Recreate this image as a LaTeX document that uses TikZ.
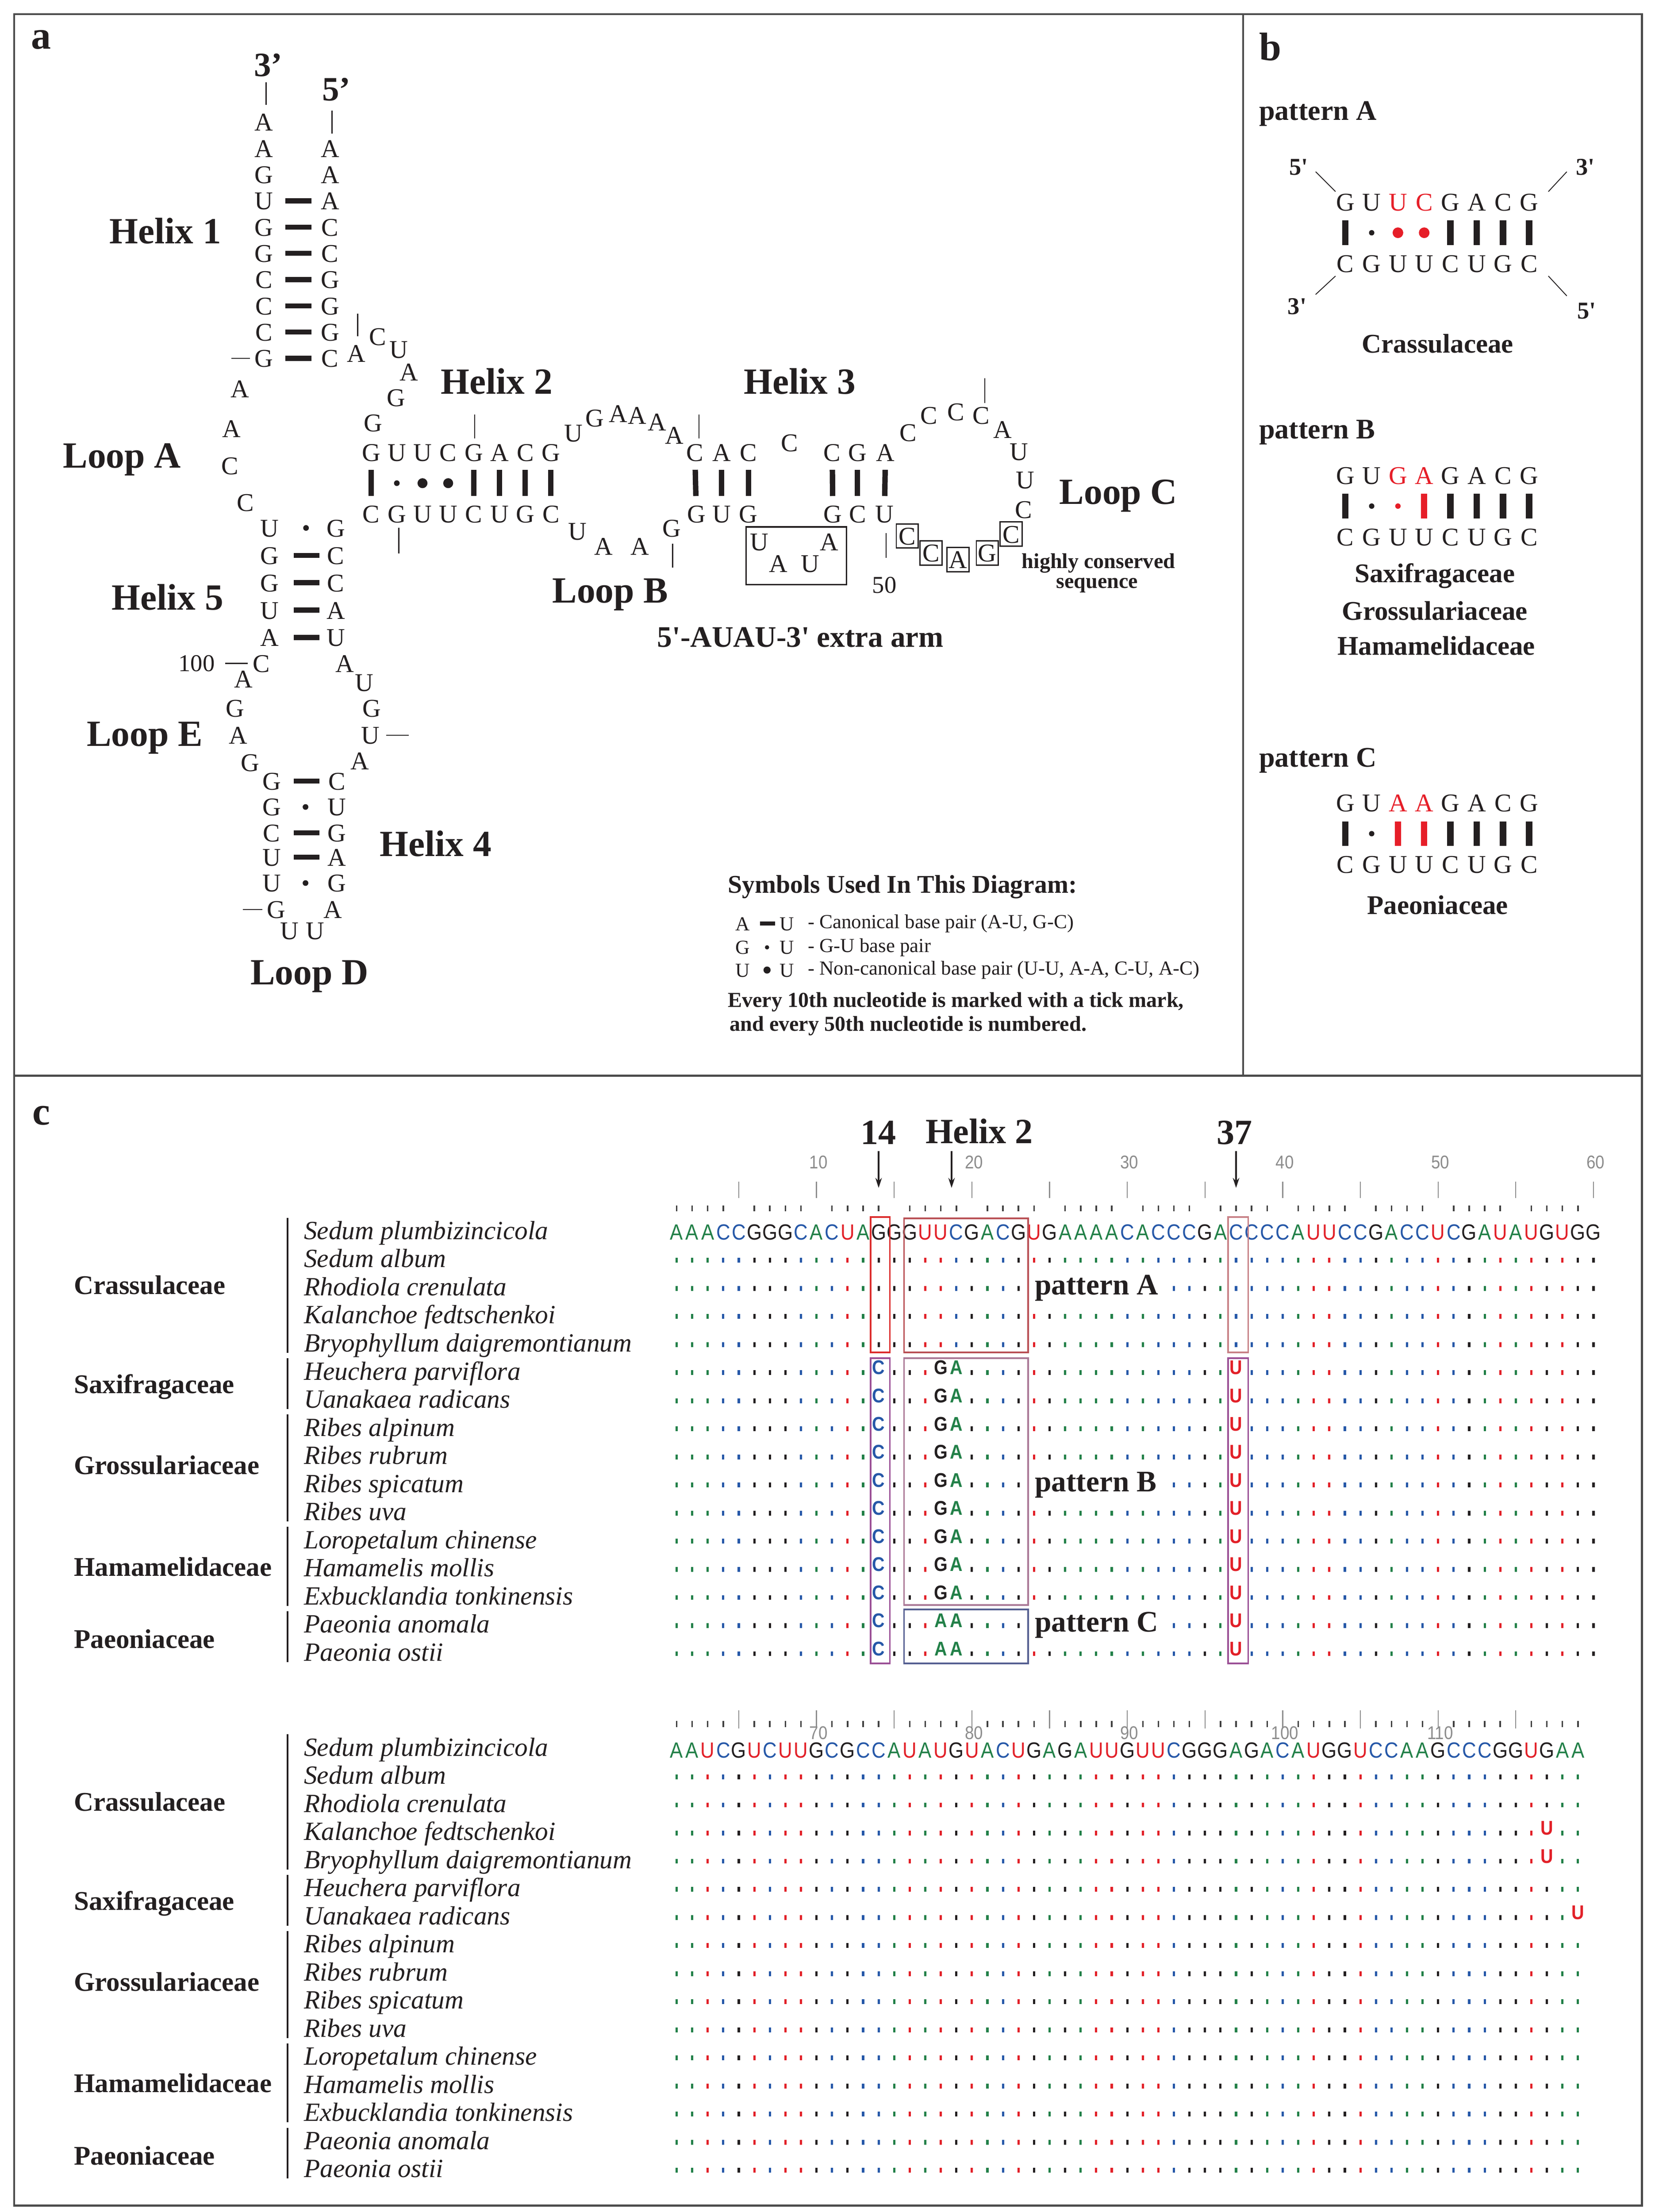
\documentclass[tikz,border=0pt]{standalone}
\usepackage{fontspec}
\setmainfont{Liberation Serif}
\newfontfamily\seqf[FakeStretch=0.88]{Liberation Sans}
\usetikzlibrary{arrows.meta}
\definecolor{ink}{RGB}{35,31,32}
\definecolor{cA}{RGB}{34,128,72}
\definecolor{cC}{RGB}{38,88,168}
\definecolor{cG}{RGB}{35,31,32}
\definecolor{cU}{RGB}{226,32,40}
\definecolor{bred}{RGB}{230,30,40}
\definecolor{framec}{RGB}{75,75,75}
\definecolor{bxr}{RGB}{220,45,45}
\definecolor{bxp}{RGB}{155,80,150}
\definecolor{bxbr}{RGB}{185,80,85}
\definecolor{bxm}{RGB}{170,120,150}
\definecolor{bxs}{RGB}{85,95,145}
\definecolor{bxpk}{RGB}{200,130,135}
\newcommand\fs[1]{\fontsize{#1}{#1}\selectfont}
\tikzset{
 framel/.style={draw=framec, line width=1.4pt},
 nt/.style={font=\fs{18}, inner sep=0pt, text=ink, text height=12.4pt, text depth=0pt},
 ntbox/.style={nt, draw=ink, line width=0.9pt, minimum width=15.5pt, minimum height=17pt},
 hlab/.style={font=\bfseries\fs{26}, inner sep=0pt, text=ink, text height=17.4pt, text depth=0pt},
 endlab/.style={font=\bfseries\fs{24}, inner sep=0pt, text=ink},
 plab/.style={font=\bfseries\fs{28}, inner sep=0pt, text=ink},
 tk/.style={draw=ink, line width=0.75pt},
 bph/.style={draw=ink, line width=3.6pt},
 bpv/.style={draw=ink, line width=3.8pt, shorten <=12.3pt, shorten >=12.7pt},
 gu/.style={circle, fill=ink, inner sep=0pt, minimum size=4pt},
 ncd/.style={circle, fill=ink, inner sep=0pt, minimum size=7pt},
 smalltxt/.style={font=\fs{17}, inner sep=0pt, text=ink},
 b15/.style={font=\bfseries\fs{15}, inner sep=0pt, text=ink},
 b21/.style={font=\bfseries\fs{21}, inner sep=0pt, text=ink},
 legnt/.style={font=\fs{14}, inner sep=0pt, text=ink, text height=9.7pt, text depth=0pt},
 legtxt/.style={font=\fs{14}, inner sep=0pt, text=ink},
 legtitle/.style={font=\bfseries\fs{18}, inner sep=0pt, text=ink},
 legbold/.style={font=\bfseries\fs{15}, inner sep=0pt, text=ink},
 bnt/.style={font=\fs{18}, inner sep=0pt, text=ink, text height=12.4pt, text depth=0pt},
 bbar/.style={line width=4.5pt, shorten <=13pt, shorten >=13pt},
 bgu/.style={circle, inner sep=0pt, minimum size=3.8pt},
 bnc/.style={circle, inner sep=0pt, minimum size=7.5pt},
 bhead/.style={font=\bfseries\fs{20}, inner sep=0pt, text=ink, anchor=west},
 bfam/.style={font=\bfseries\fs{19}, inner sep=0pt, text=ink},
 bendlab/.style={font=\bfseries\fs{17}, inner sep=0pt, text=ink},
 hdr/.style={font=\bfseries\fs{25}, inner sep=0pt, text=ink},
 seqn/.style={font=\seqf\fs{15.5}, inner sep=0pt, text height=11pt, text depth=0pt},
 alnt/.style={font=\seqf\bfseries\fs{14}, fill=white, inner sep=0.5pt, text height=10pt, text depth=0pt, minimum height=13pt},
 numg/.style={font=\seqf\fs{13}, inner sep=0pt, text=black!45},
 spc/.style={font=\itshape\fs{18.5}, inner sep=0pt, text=ink, anchor=west, text height=12.5pt, text depth=0pt},
 famc/.style={font=\bfseries\fs{19}, inner sep=0pt, text=ink, anchor=west, text height=12.8pt, text depth=0pt},
 pl/.style={font=\bfseries\fs{21}, inner sep=2pt, text=ink, fill=white, anchor=west},
 fbar/.style={draw=ink, line width=1.5pt},
 arr/.style={draw=ink, line width=1.3pt, -{Stealth[length=7pt,width=4.5pt]}},
 ltk/.style={draw=black!45, line width=0.7pt},
 stk/.style={draw=black!75, line width=1.1pt},
 bx/.style={line width=1.2pt}
}
\def\seqone{A,A,A,C,C,G,G,G,C,A,C,U,A,G,G,G,U,U,C,G,A,C,G,U,G,A,A,A,A,C,A,C,C,C,G,A,C,C,C,C,A,U,U,C,C,G,A,C,C,U,C,G,A,U,A,U,G,U,G,G}
\def\seqtwo{A,A,U,C,G,U,C,U,U,G,C,G,C,C,A,U,A,U,G,U,A,C,U,G,A,G,A,U,U,G,U,U,C,G,G,G,A,G,A,C,A,U,G,G,U,C,C,A,A,G,C,C,C,G,G,U,G,A,A}
\newcommand\seqrow[3]{%
 \foreach \l [count=\i] in #1 {\node[seqn, text=c\l] (#2\i) at ({465.8+10.95*\i},#3) {\l};}}
\newcommand\dotrows[2]{%
 \foreach \l [count=\i] in #1 {%
  \foreach \r in {1,...,15} {%
   \fill[c\l] ({465.8+10.95*\i-0.8},{#2+19.8*\r-1.5}) rectangle ++(1.6,3.4);}}}
\newcommand\leftlab[2]{%
 \foreach \nm [count=\r from 0] in {Sedum plumbizincicola,Sedum album,Rhodiola crenulata,Kalanchoe fedtschenkoi,Bryophyllum daigremontianum,Heuchera parviflora,Uanakaea radicans,Ribes alpinum,Ribes rubrum,Ribes spicatum,Ribes uva,Loropetalum chinense,Hamamelis mollis,Exbucklandia tonkinensis,Paeonia anomala,Paeonia ostii}
  {\node[spc] (#1s\r) at (214,{#2+19.8*\r-1}) {\nm};}
 \node[famc] (#1f1) at (52,{#2+37.6}) {Crassulaceae};
 \node[famc] (#1f2) at (52,{#2+107.5}) {Saxifragaceae};
 \node[famc] (#1f3) at (52,{#2+164.5}) {Grossulariaceae};
 \node[famc] (#1f4) at (52,{#2+236}) {Hamamelidaceae};
 \node[famc] (#1f5) at (52,{#2+287}) {Paeoniaceae};
 \draw[fbar] (202.6,{#2-10}) -- (202.6,{#2+19.8*4+6});
 \draw[fbar] (202.6,{#2+19.8*5-10}) -- (202.6,{#2+19.8*6+6});
 \draw[fbar] (202.6,{#2+19.8*7-10}) -- (202.6,{#2+19.8*10+6});
 \draw[fbar] (202.6,{#2+19.8*11-10}) -- (202.6,{#2+19.8*13+6});
 \draw[fbar] (202.6,{#2+19.8*14-10}) -- (202.6,{#2+19.8*15+6});}
\begin{document}
\begin{tikzpicture}[x=1pt,y=-1pt]
\useasboundingbox (0,0) rectangle (1166,1558.6);
\fill[white] (0,0) rectangle (1166,1558.6);
% frames
\draw[framel] (10,10) rectangle (1157,1554);
\draw[framel] (876,10) -- (876,758);
\draw[framel] (10,758) -- (1157,758);
\node[plab] (la) at (29,28) {a};
\node[plab] (lb) at (895,33) {b};
\node[plab] (lc) at (29,786) {c};

% ================= panel a =================
\foreach \k/\x/\y/\l in {1/232.5/104.5/A,2/232.5/123/A,3/232.5/141.5/A,4/232.5/160/C,5/232.5/178.5/C,6/232.5/197/G,7/232.5/215.5/G,8/232.5/234/G,9/232.5/252.5/C,
 10/251/249/A,11/266/237/C,12/281/246/U,13/288/262/A,14/279/280/G,15/263/298/G,
 16/261.5/318.7/G,17/279.6/318.7/U,18/297.7/318.7/U,19/315.8/318.7/C,20/333.9/318.7/G,21/352/318.7/A,22/370.1/318.7/C,23/388.2/318.7/G,
 24/404/305/U,25/419/294.6/G,26/435.5/291.3/A,27/449/292.6/A,28/463/297.3/A,29/475.3/306.7/A,
 30/489.6/318.7/C,31/508.5/318.7/A,32/527.3/318.7/C,33/556.3/312/C,34/586.4/318.7/C,35/604.2/318.7/G,36/623.9/318.7/A,
 37/640/304.7/C,38/654.4/292.6/C,39/673.4/290/C,40/691.2/292.6/C,41/706.4/302.7/A,42/718/318/U,43/722.4/338/U,44/721.3/358.9/C,
 50/623.2/362.2/U,51/604.2/362.2/C,52/586.8/362.2/G,53/584.2/381.6/A,54/570.8/397/U,55/548.5/397/A,56/535.1/381.6/U,
 57/527.3/362.2/G,58/508.5/362.2/U,59/490.6/362.2/G,60/473.3/372.2/G,61/450.8/385/A,62/425.4/385/A,63/407/374.2/U,
 64/388.2/362.2/C,65/370.1/362.2/G,66/352/362.2/U,67/333.9/362.2/C,68/315.8/362.2/U,69/297.7/362.2/U,70/279.6/362.2/G,71/261.5/362.2/C,
 72/236.6/372/G,73/236.6/391.3/C,74/236.6/410.6/C,75/236.6/429.9/A,76/236.6/449.2/U,
 77/243/467.4/A,78/256.6/480.7/U,79/262/498.8/G,80/261/518/U,81/253.5/536/A,
 82/237.3/550.4/C,83/237.3/568.6/U,84/237.3/586.8/G,85/237.3/604/A,86/237.3/622.2/G,
 87/234.5/640.8/A,88/222/655.6/U,89/204/655.6/U,90/194.6/640.8/G,
 91/191.4/622.2/U,92/191.4/604/U,93/191.4/586.8/C,94/191.4/568.6/G,95/191.4/550.4/G,
 96/176.3/537.2/G,97/167.7/518/A,98/165.5/498.8/G,99/171.4/478.4/A,100/184/467.4/C,
 101/190/449.2/A,102/190/429.9/U,103/190/410.6/G,104/190/391.3/G,105/190/372/U,
 106/173/354/C,107/162/328/C,108/163/302/A,109/169/274/A,
 110/186/252.5/G,111/186/234/C,112/186/215.5/C,113/186/197/C,114/186/178.5/G,115/186/160/G,116/186/141.5/U,117/186/123/G,118/186/104.5/A,119/186/86/A}
 {\node[nt] (n\k) at (\x,\y) {\l};}
\node[ntbox] (n45) at (712.4,376.3) {C};
\node[ntbox] (n46) at (695.7,389.6) {G};
\node[ntbox] (n47) at (675,394.3) {A};
\node[ntbox] (n48) at (656,389.6) {C};
\node[ntbox] (n49) at (639.3,377.6) {C};

% base pairs
\foreach \a/\b in {116/3,115/4,114/5,113/6,112/7,111/8,110/9}
 \draw[bph, shorten <=15pt, shorten >=13pt] (n\a.center) -- (n\b.center);
\foreach \a/\b in {16/71,20/67,21/66,22/65,23/64,30/59,31/58,32/57,34/52,35/51,36/50}
 \draw[bpv] (n\a.center) -- (n\b.center);
\path (n17.center) -- node[gu] (d17) {} (n70.center);
\path (n18.center) -- node[ncd] (d18) {} (n69.center);
\path (n19.center) -- node[ncd] (d19) {} (n68.center);
\path (n105.center) -- node[gu, pos=0.55] (d105) {} (n72.center);
\foreach \a/\b in {104/73,103/74,102/75,101/76}
 \draw[bph, shorten <=17pt, shorten >=11.6pt] (n\a.center) -- (n\b.center);
\foreach \a/\b in {95/82,93/84,92/85}
 \draw[bph, shorten <=15.6pt, shorten >=12.3pt] (n\a.center) -- (n\b.center);
\path (n94.center) -- node[gu, pos=0.52] (d94) {} (n83.center);
\path (n91.center) -- node[gu, pos=0.52] (d91) {} (n86.center);

% ends and ticks
\node[endlab] (e3) at (189,46) {3’};
\node[endlab] (e5) at (237,63) {5’};
\draw[tk] (187.5,58) -- (187.5,74);
\draw[tk] (234,78) -- (234,94);
\draw[tk] (252,221) -- (252,237);
\draw[tk] (334.5,292) -- (334.5,309);
\draw[tk] (492.6,292) -- (492.6,309);
\draw[tk] (693.9,266.5) -- (693.9,284);
\draw[tk] (624.3,375.6) -- (624.3,393);
\draw[tk] (474,383) -- (474,400);
\draw[tk] (281,372) -- (281,390);
\draw[tk] (272,518) -- (288,518);
\draw[tk] (171,640.8) -- (185,640.8);
\draw[tk] (158.8,467.4) -- (174.6,467.4);
\draw[tk] (163,252.5) -- (176,252.5);
\node[smalltxt] (t50) at (623.2,412.4) {50};
\node[smalltxt, anchor=east] (t100) at (151.5,467.4) {100};

% labels
\node[hlab] (h1) at (116.5,163) {Helix 1};
\node[hlab] (h2) at (350,269) {Helix 2};
\node[hlab] (h3) at (563.5,269) {Helix 3};
\node[hlab] (h4) at (307,594.5) {Helix 4};
\node[hlab] (h5) at (118,421) {Helix 5};
\node[hlab] (lpA) at (86,321) {Loop A};
\node[hlab] (lpB) at (430,416) {Loop B};
\node[hlab] (lpC) at (788,346.5) {Loop C};
\node[hlab] (lpD) at (218,685) {Loop D};
\node[hlab] (lpE) at (102,517) {Loop E};
\node[draw=ink, line width=1.1pt, minimum width=70.7pt, minimum height=40.7pt, inner sep=0pt] (armbox) at (561.05,391.65) {};
\node[b15] (hc1) at (774,397) {highly conserved};
\node[b15] (hc2) at (773,412.5) {sequence};
\node[b21] (xarm) at (564,449) {5\textquotesingle-AUAU-3\textquotesingle{} extra arm};

% legend
\node[legtitle, anchor=west] (lg0) at (512.7,625) {Symbols Used In This Diagram:};
\node[legnt] (lgA1) at (523.2,650.7) {A};
\node[legnt] (lgU1) at (554.6,650.7) {U};
\draw[draw=ink, line width=3pt, shorten <=12.3pt, shorten >=8.6pt] (lgA1.center) -- (lgU1.center);
\node[legtxt, anchor=west] (lgt1) at (569,650.7) {- Canonical base pair (A-U, G-C)};
\node[legnt] (lgG2) at (523.2,667.5) {G};
\node[legnt] (lgU2) at (554.6,667.5) {U};
\path (lgG2.center) -- node[gu, pos=0.55, minimum size=3pt] (lgd2) {} (lgU2.center);
\node[legtxt, anchor=west] (lgt2) at (569,667.5) {- G-U base pair};
\node[legnt] (lgU3) at (523.2,683.5) {U};
\node[legnt] (lgV3) at (554.6,683.5) {U};
\path (lgU3.center) -- node[ncd, pos=0.55, minimum size=5pt] (lgd3) {} (lgV3.center);
\node[legtxt, anchor=west] (lgt3) at (569,683.5) {- Non-canonical base pair (U-U, A-A, C-U, A-C)};
\node[legbold, anchor=west] (lg4) at (512.7,706) {Every 10th nucleotide is marked with a tick mark,};
\node[legbold, anchor=west] (lg5) at (514,723) {and every 50th nucleotide is numbered.};

% ================= panel b =================
\node[bhead] (pAh) at (887,80) {pattern A};
\foreach \l/\c [count=\i] in {G/ink,U/ink,U/bred,C/bred,G/ink,A/ink,C/ink,G/ink}
 \node[bnt, text=\c] (pAt\i) at ({948+18.5*(\i-1)},142.3) {\l};
\foreach \l [count=\i] in {C,G,U,U,C,U,G,C}
 \node[bnt] (pAb\i) at ({948+18.5*(\i-1)},185.7) {\l};
\foreach \i in {1,5,6,7,8} \draw[bbar, draw=ink] (pAt\i.center) -- (pAb\i.center);
\path (pAt2.center) -- node[bgu, fill=ink] (pAd2) {} (pAb2.center);
\path (pAt3.center) -- node[bnc, fill=bred] (pAd3) {} (pAb3.center);
\path (pAt4.center) -- node[bnc, fill=bred] (pAd4) {} (pAb4.center);
\node[bendlab] (pA5l) at (915,117.7) {5\textquotesingle};
\node[bendlab] (pA3l) at (914,216) {3\textquotesingle};
\node[bendlab] (pA3r) at (1117,117.7) {3\textquotesingle};
\node[bendlab] (pA5r) at (1118,219) {5\textquotesingle};
\draw[draw=ink, line width=0.6pt] (927,121) -- (941,135);
\draw[draw=ink, line width=0.6pt] (941,194.5) -- (927,207.5);
\draw[draw=ink, line width=0.6pt] (1091,135) -- (1104,121);
\draw[draw=ink, line width=0.6pt] (1091,194.5) -- (1104,208.5);
\node[bfam] (pAf) at (1013,242.2) {Crassulaceae};

\node[bhead] (pBh) at (887,304.5) {pattern B};
\foreach \l/\c [count=\i] in {G/ink,U/ink,G/bred,A/bred,G/ink,A/ink,C/ink,G/ink}
 \node[bnt, text=\c] (pBt\i) at ({948+18.5*(\i-1)},334.9) {\l};
\foreach \l [count=\i] in {C,G,U,U,C,U,G,C}
 \node[bnt] (pBb\i) at ({948+18.5*(\i-1)},378.3) {\l};
\foreach \i in {1,5,6,7,8} \draw[bbar, draw=ink] (pBt\i.center) -- (pBb\i.center);
\draw[bbar, draw=bred] (pBt4.center) -- (pBb4.center);
\path (pBt2.center) -- node[bgu, fill=ink] (pBd2) {} (pBb2.center);
\path (pBt3.center) -- node[bgu, fill=bred] (pBd3) {} (pBb3.center);
\node[bfam] (pBf1) at (1011,405.8) {Saxifragaceae};
\node[bfam] (pBf2) at (1011,430.4) {Grossulariaceae};
\node[bfam] (pBf3) at (1012,455) {Hamamelidaceae};

\node[bhead] (pCh) at (887,536) {pattern C};
\foreach \l/\c [count=\i] in {G/ink,U/ink,A/bred,A/bred,G/ink,A/ink,C/ink,G/ink}
 \node[bnt, text=\c] (pCt\i) at ({948+18.5*(\i-1)},565.7) {\l};
\foreach \l [count=\i] in {C,G,U,U,C,U,G,C}
 \node[bnt] (pCb\i) at ({948+18.5*(\i-1)},609.1) {\l};
\foreach \i in {1,5,6,7,8} \draw[bbar, draw=ink] (pCt\i.center) -- (pCb\i.center);
\foreach \i in {3,4} \draw[bbar, draw=bred] (pCt\i.center) -- (pCb\i.center);
\path (pCt2.center) -- node[bgu, fill=ink] (pCd2) {} (pCb2.center);
\node[bfam] (pCf) at (1013,637.8) {Paeoniaceae};

% ================= panel c =================
\node[hdr] (c14) at (619,798) {14};
\node[hdr] (chx) at (690,797) {Helix 2};
\node[hdr] (c37) at (870,798) {37};
\coordinate (a14s) at (619.1,811); \coordinate (a14e) at (619.1,837);
\coordinate (ahxs) at (670.5,811); \coordinate (ahxe) at (670.5,837);
\coordinate (a37s) at (870.95,811); \coordinate (a37e) at (870.95,837);
\draw[arr] (a14s) -- (a14e);
\draw[arr] (ahxs) -- (ahxe);
\draw[arr] (a37s) -- (a37e);

% block 1 header
\foreach \k/\t in {1/10,2/20,3/30,4/40,5/50,6/60}
 \node[numg] (nm\t) at ({465.8+109.5*\k+1.5},819) {\t};
\foreach \k in {1,...,12} \draw[ltk] ({465.8+54.75*\k},832.5) -- ++(0,11.5);
\foreach \i in {1,...,59} {\pgfmathtruncatemacro\m{mod(\i,5)}\ifnum\m=0\relax\else\draw[stk] ({465.8+10.95*\i},849.5) -- ++(0,4);\fi}
\seqrow{\seqone}{sa}{868}
\dotrows{\seqone}{868}
\leftlab{ka}{868}
% block 1 variants
\foreach \r in {5,...,15} {
 \node[alnt, text=cC] (va14r\r) at ({465.8+10.95*14},{868+19.8*\r-3.5}) {C};
 \node[alnt, text=cU] (va37r\r) at ({465.8+10.95*37},{868+19.8*\r-3.5}) {U};}
\foreach \r in {5,...,13} {
 \node[alnt, text=cG] (va18r\r) at ({465.8+10.95*18},{868+19.8*\r-3.5}) {G};
 \node[alnt, text=cA] (va19r\r) at ({465.8+10.95*19},{868+19.8*\r-3.5}) {A};}
\foreach \r in {14,15} {
 \node[alnt, text=cA] (va18r\r) at ({465.8+10.95*18},{868+19.8*\r-3.5}) {A};
 \node[alnt, text=cA] (va19r\r) at ({465.8+10.95*19},{868+19.8*\r-3.5}) {A};}
\node[pl] (patA) at (727,907.6) {pattern A};
\node[pl] (patB) at (727,1046.2) {pattern B};
\node[pl] (patC) at (727,1145.2) {pattern C};
% boxes
\draw[bx, draw=bxr] (613.5,857.5) rectangle (627,953);
\draw[bx, draw=bxp] (613.5,957) rectangle (627,1172);
\draw[bx, draw=bxbr] (637,858.5) rectangle (724.5,953);
\draw[bx, draw=bxm] (637,957) rectangle (724.5,1131);
\draw[bx, draw=bxs] (637,1134) rectangle (724.5,1172);
\draw[bx, draw=bxpk] (865.2,857.5) rectangle (879.5,953);
\draw[bx, draw=bxp] (865.2,957) rectangle (879.5,1172);

% block 2 header
\foreach \k in {1,...,11} \draw[ltk] ({465.8+54.75*\k},1205) -- ++(0,13);
\foreach \i in {1,...,59} {\pgfmathtruncatemacro\m{mod(\i,5)}\ifnum\m=0\relax\else\draw[stk] ({465.8+10.95*\i},1212.5) -- ++(0,4.5);\fi}
\foreach \k/\t in {1/70,2/80,3/90,4/100,5/110}
 \node[numg] (nm\t) at ({465.8+109.5*\k+1.5},1221) {\t};
\seqrow{\seqtwo}{sb}{1233}
\dotrows{\seqtwo}{1232}
\leftlab{kb}{1232}
\node[alnt, text=cU] (vb57r3) at ({465.8+10.95*57},{1232+19.8*3-3.5}) {U};
\node[alnt, text=cU] (vb57r4) at ({465.8+10.95*57},{1232+19.8*4-3.5}) {U};
\node[alnt, text=cU] (vb59r6) at ({465.8+10.95*59},{1232+19.8*6-3.5}) {U};
\end{tikzpicture}
\end{document}
